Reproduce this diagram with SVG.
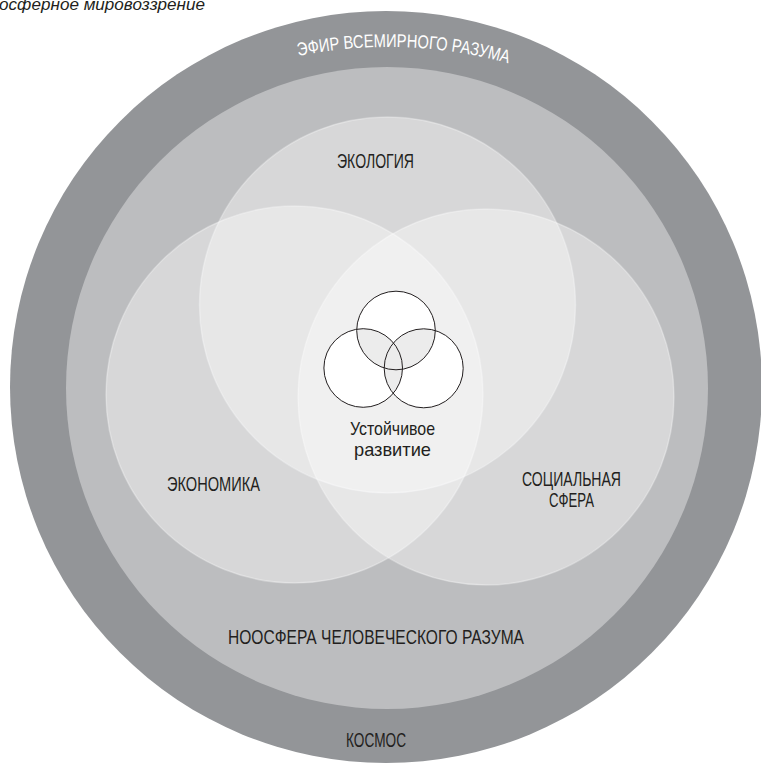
<svg xmlns="http://www.w3.org/2000/svg" xmlns:xlink="http://www.w3.org/1999/xlink" width="761" height="763" viewBox="0 0 761 763">
<style>
.lbl{font-family:"Liberation Sans","DejaVu Sans",sans-serif;font-size:20px;fill:#231F20;text-anchor:middle}
.sd{font-size:18.5px}
.venn{fill:#FFFFFF;fill-opacity:0.4;stroke:#FFFFFF;stroke-opacity:0.3;stroke-width:1.5}
.sm{fill:none;stroke:#231F20;stroke-width:1}
</style>
<defs>
<path id="arcPath" d="M 263 64.7 A 450 450 0 0 1 543 74.5"/>
<clipPath id="clipTop"><circle cx="396" cy="330.5" r="39.3"/></clipPath>
<clipPath id="clipLeft"><circle cx="363.2" cy="368" r="39.3"/></clipPath>
</defs>
<rect width="761" height="763" fill="#FFFFFF"/>
<text x="-1" y="10" font-family="'Liberation Sans',sans-serif" font-style="italic" font-size="17" fill="#231F20" textLength="206" lengthAdjust="spacingAndGlyphs">осферное мировоззрение</text>
<g id="cosmos">
<circle cx="386" cy="387" r="376" fill="#939598"/>
<text class="lbl" x="376" y="747" textLength="60" lengthAdjust="spacingAndGlyphs">КОСМОС</text>
</g>
<g id="ether">
<text font-family="'Liberation Sans',sans-serif" font-size="18.5" fill="#FFFFFF" text-anchor="middle"><textPath xlink:href="#arcPath" href="#arcPath" startOffset="50%" textLength="212" lengthAdjust="spacingAndGlyphs">ЭФИР ВСЕМИРНОГО РАЗУМА</textPath></text>
</g>
<g id="noosphere">
<circle cx="387" cy="388" r="321" fill="#BCBDBF"/>
<text class="lbl" x="376" y="644" textLength="296" lengthAdjust="spacingAndGlyphs">НООСФЕРА ЧЕЛОВЕЧЕСКОГО РАЗУМА</text>
</g>
<g id="ecology">
<circle class="venn" cx="387.5" cy="305" r="188"/>
</g>
<g id="economy">
<circle class="venn" cx="294.5" cy="394.5" r="188.5"/>
</g>
<g id="social">
<circle class="venn" cx="486" cy="397" r="188"/>
</g>
<g id="labels">
<text class="lbl" x="375.5" y="167.5" textLength="77" lengthAdjust="spacingAndGlyphs">ЭКОЛОГИЯ</text>
<text class="lbl" x="213.5" y="491" textLength="93" lengthAdjust="spacingAndGlyphs">ЭКОНОМИКА</text>
<text class="lbl" x="571.5" y="485.5" textLength="99" lengthAdjust="spacingAndGlyphs">СОЦИАЛЬНАЯ</text>
<text class="lbl" x="571.5" y="507" textLength="45" lengthAdjust="spacingAndGlyphs">СФЕРА</text>
</g>
<g id="sustainable">
<circle cx="396" cy="330.5" r="39.3" fill="#FFFFFF"/>
<circle cx="363.2" cy="368" r="39.3" fill="#FFFFFF"/>
<circle cx="423.7" cy="368.3" r="39.5" fill="#FFFFFF"/>
<g clip-path="url(#clipTop)" fill="#ECECEC">
<circle cx="363.2" cy="368" r="39.3"/>
<circle cx="423.7" cy="368.3" r="39.5"/>
</g>
<g clip-path="url(#clipLeft)" fill="#ECECEC">
<circle cx="423.7" cy="368.3" r="39.5"/>
</g>
<circle class="sm" cx="396" cy="330.5" r="39.3"/>
<circle class="sm" cx="363.2" cy="368" r="39.3"/>
<circle class="sm" cx="423.7" cy="368.3" r="39.5"/>
<text class="lbl sd" x="392.5" y="434.5" textLength="85" lengthAdjust="spacingAndGlyphs">Устойчивое</text>
<text class="lbl sd" x="392.5" y="455.5" textLength="77" lengthAdjust="spacingAndGlyphs">развитие</text>
</g>
<g id="connectors"/>
</svg>
